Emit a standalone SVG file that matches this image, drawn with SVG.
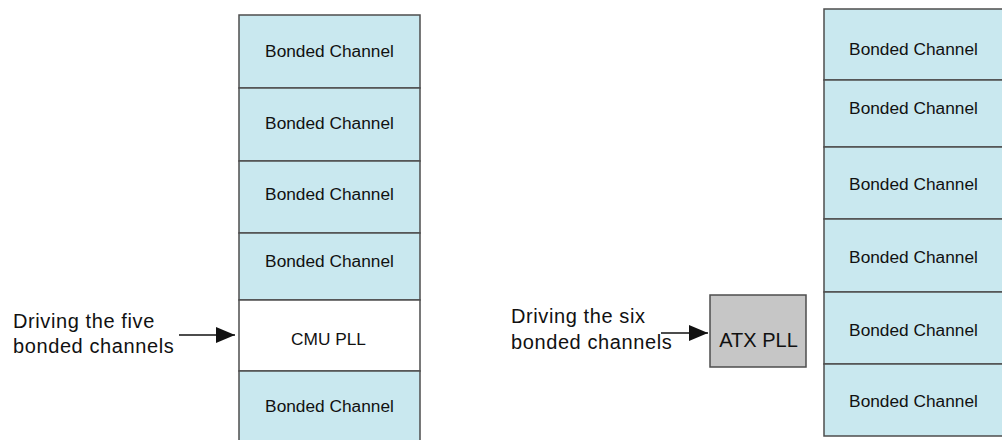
<svg xmlns="http://www.w3.org/2000/svg" width="1002" height="440" viewBox="0 0 1002 440">
<defs>
<style>
.ch{fill:#c9e8ef;stroke:#4d4d4d;stroke-width:1.5}
.pll{fill:#ffffff;stroke:#4d4d4d;stroke-width:1.5}
.atx{fill:#c6c6c6;stroke:#4d4d4d;stroke-width:1.5}
.t{font-family:"Liberation Sans",Arial,sans-serif;font-size:17.3px;fill:#111;text-anchor:middle}
.lbl{font-family:"Liberation Sans",Arial,sans-serif;font-size:20px;letter-spacing:0.6px;fill:#111}
.conn{stroke:#111;stroke-width:1.5;fill:none}
</style>
<marker id="ah" markerWidth="20" markerHeight="16" refX="19" refY="8" orient="auto" markerUnits="userSpaceOnUse">
<path d="M0,0 L19,8 L0,16 Z" fill="#111"/>
</marker>
</defs>
<rect width="1002" height="440" fill="#ffffff"/>
<g id="left-stack">
<g id="l-ch1"><rect class="ch" x="239" y="15" width="181" height="73"/><text class="t" x="329.5" y="57">Bonded Channel</text></g>
<g id="l-ch2"><rect class="ch" x="239" y="88" width="181" height="73"/><text class="t" x="329.5" y="129">Bonded Channel</text></g>
<g id="l-ch3"><rect class="ch" x="239" y="161" width="181" height="72"/><text class="t" x="329.5" y="200">Bonded Channel</text></g>
<g id="l-ch4"><rect class="ch" x="239" y="233" width="181" height="67"/><text class="t" x="329.5" y="267">Bonded Channel</text></g>
<g id="l-cmu"><rect class="pll" x="239" y="300" width="181" height="71"/><text class="t" x="328.5" y="345">CMU PLL</text></g>
<g id="l-ch5"><rect class="ch" x="239" y="371" width="181" height="75"/><text class="t" x="329.5" y="411.5">Bonded Channel</text></g>
</g>
<g id="right-stack">
<g id="r-ch1"><rect class="ch" x="824" y="9" width="180" height="71"/><text class="t" x="913.5" y="54.5">Bonded Channel</text></g>
<g id="r-ch2"><rect class="ch" x="824" y="80" width="180" height="67"/><text class="t" x="913.5" y="114">Bonded Channel</text></g>
<g id="r-ch3"><rect class="ch" x="824" y="147" width="180" height="72"/><text class="t" x="913.5" y="190">Bonded Channel</text></g>
<g id="r-ch4"><rect class="ch" x="824" y="219" width="180" height="73"/><text class="t" x="913.5" y="263">Bonded Channel</text></g>
<g id="r-ch5"><rect class="ch" x="824" y="292" width="180" height="72"/><text class="t" x="913.5" y="336">Bonded Channel</text></g>
<g id="r-ch6"><rect class="ch" x="824" y="364" width="180" height="72"/><text class="t" x="913.5" y="407">Bonded Channel</text></g>
</g>
<g id="atx-pll"><rect class="atx" x="710" y="295" width="96" height="72"/><text class="t" style="font-size:20px" x="758.5" y="347">ATX PLL</text></g>
<g id="label-five"><text class="lbl" x="13" y="328">Driving the five</text><text class="lbl" x="13" y="353">bonded channels</text></g>
<g id="label-six"><text class="lbl" x="511" y="323">Driving the six</text><text class="lbl" x="511" y="349">bonded channels</text></g>
<g id="connectors">
<line class="conn" x1="179" y1="335" x2="235" y2="335" marker-end="url(#ah)"/>
<line class="conn" x1="661" y1="333" x2="708" y2="333" marker-end="url(#ah)"/>
</g>
</svg>
